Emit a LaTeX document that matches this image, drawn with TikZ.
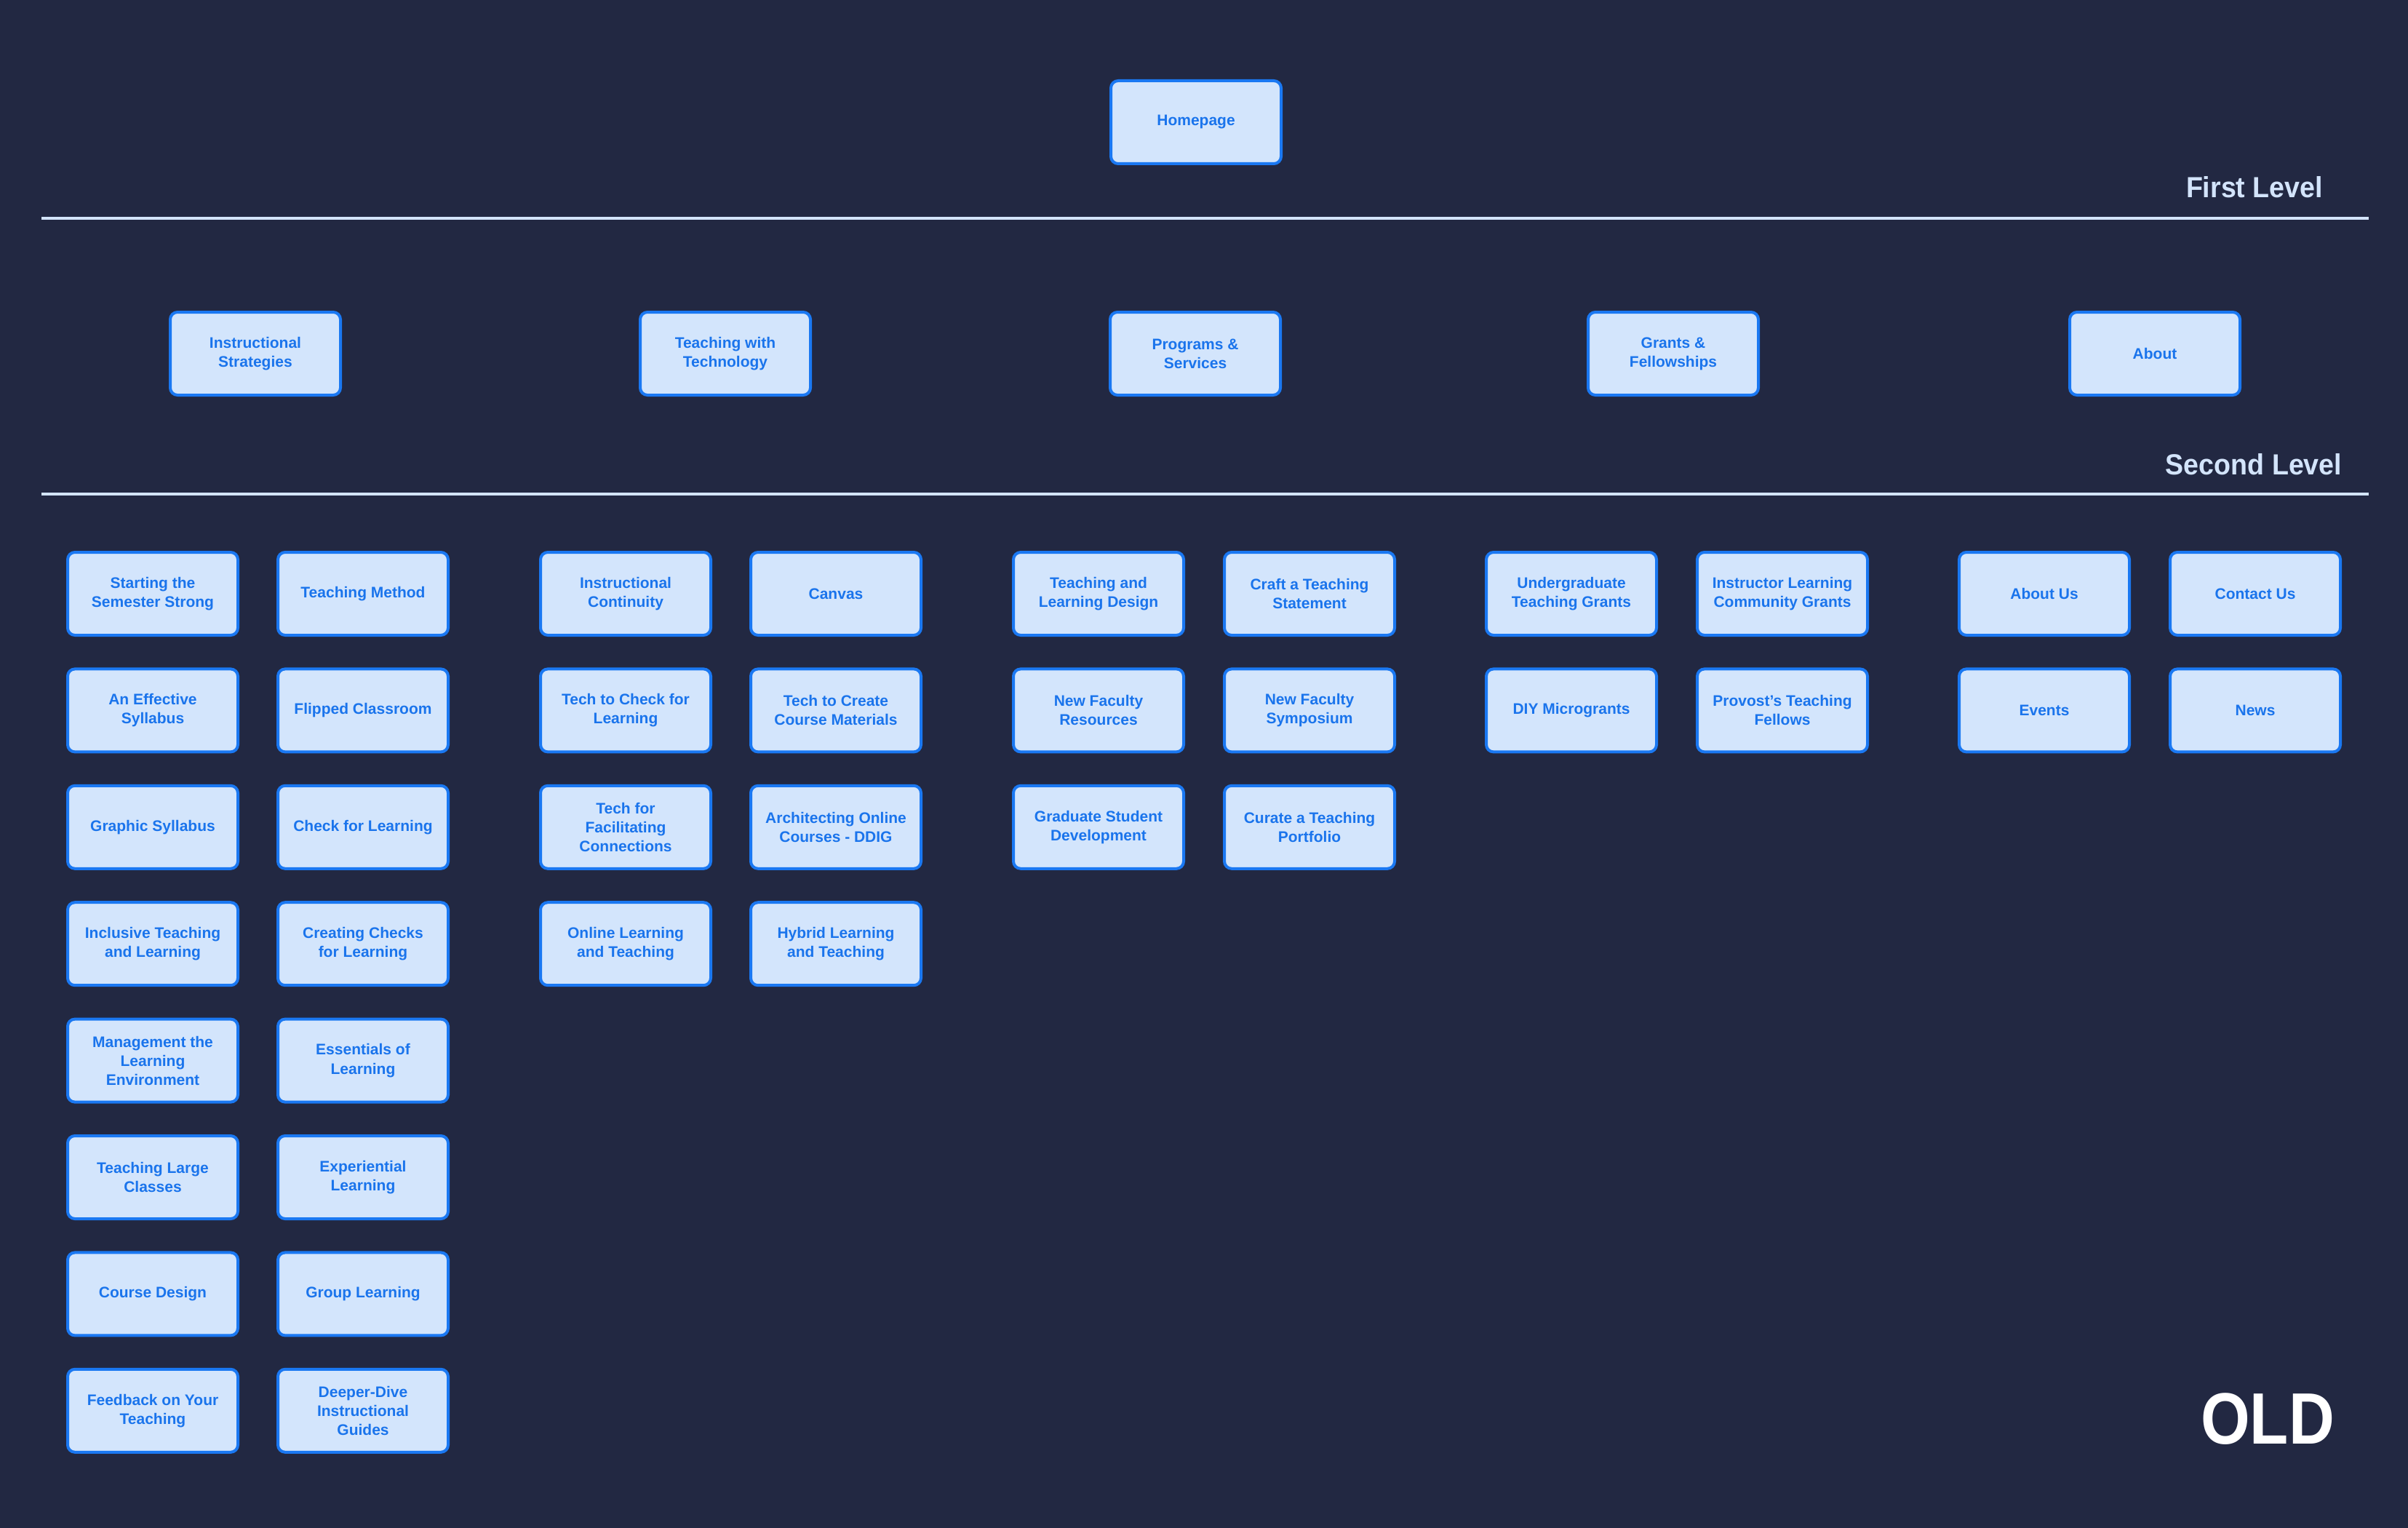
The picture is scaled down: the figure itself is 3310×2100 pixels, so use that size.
\documentclass[tikz,border=0pt]{standalone}
\usepackage{fontspec}
\setmainfont{Liberation Sans}
\newfontfamily\headfont{Liberation Sans}[FakeStretch=0.94]
\newfontfamily\oldfont{Liberation Sans}[FakeStretch=0.87]
\definecolor{bgcol}{HTML}{222842}
\definecolor{boxfill}{HTML}{D3E5FC}
\definecolor{boxline}{HTML}{1A78F2}
\definecolor{boxtext}{HTML}{1A74EC}
\definecolor{rulecol}{HTML}{D3E4FB}
\tikzset{
  pagebox/.style={draw=boxline, line width=4pt, fill=boxfill, rounded corners=10pt,
    minimum width=234pt, minimum height=114pt, inner sep=0pt, align=center,
    text=boxtext, font=\bfseries\fontsize{21}{26}\selectfont},
  levelrule/.style={draw=rulecol, line width=4pt},
  levellabel/.style={anchor=base, text=rulecol, font=\headfont\bfseries\fontsize{40}{46}\selectfont, inner sep=0pt},
}
\begin{document}
\begin{tikzpicture}[x=1pt,y=-1pt]
\fill[bgcol] (0,0) rectangle (3310,2100);
\useasboundingbox (0,0) rectangle (3310,2100);

% top
\node[pagebox] (home) at (1644,168) {Homepage};
\coordinate (r1a) at (57,300);
\coordinate (r1b) at (3256,300);
\draw[levelrule] (r1a) -- (r1b);
\node[levellabel] (lab1) at (3099,272) {First Level};

% first level
\node[pagebox] (l1a) at (351,486) {Instructional\\Strategies};
\node[pagebox] (l1b) at (997,486) {Teaching with\\Technology};
\node[pagebox] (l1c) at (1643,486) {Programs \&\\Services};
\node[pagebox] (l1d) at (2300,486) {Grants \&\\Fellowships};
\node[pagebox] (l1e) at (2962,486) {About};

\node[levellabel] (lab2) at (3098,652) {Second Level};
\coordinate (r2a) at (57,679);
\coordinate (r2b) at (3256,679);
\draw[levelrule] (r2a) -- (r2b);

% second level: column 1
\node[pagebox] (a1) at (210,816) {Starting the\\Semester Strong};
\node[pagebox] (a2) at (210,976.4) {An Effective\\Syllabus};
\node[pagebox] (a3) at (210,1136.8) {Graphic Syllabus};
\node[pagebox] (a4) at (210,1297.2) {Inclusive Teaching\\and Learning};
\node[pagebox] (a5) at (210,1457.6) {Management the\\Learning\\Environment};
\node[pagebox] (a6) at (210,1618) {Teaching Large\\Classes};
\node[pagebox] (a7) at (210,1778.4) {Course Design};
\node[pagebox] (a8) at (210,1938.8) {Feedback on Your\\Teaching};
% column 2
\node[pagebox] (b1) at (499,816) {Teaching Method};
\node[pagebox] (b2) at (499,976.4) {Flipped Classroom};
\node[pagebox] (b3) at (499,1136.8) {Check for Learning};
\node[pagebox] (b4) at (499,1297.2) {Creating Checks\\for Learning};
\node[pagebox] (b5) at (499,1457.6) {Essentials of\\Learning};
\node[pagebox] (b6) at (499,1618) {Experiential\\Learning};
\node[pagebox] (b7) at (499,1778.4) {Group Learning};
\node[pagebox] (b8) at (499,1938.8) {Deeper-Dive\\Instructional\\Guides};
% column 3
\node[pagebox] (c1) at (860,816) {Instructional\\Continuity};
\node[pagebox] (c2) at (860,976.4) {Tech to Check for\\Learning};
\node[pagebox] (c3) at (860,1136.8) {Tech for\\Facilitating\\Connections};
\node[pagebox] (c4) at (860,1297.2) {Online Learning\\and Teaching};
% column 4
\node[pagebox] (d1) at (1149,816) {Canvas};
\node[pagebox] (d2) at (1149,976.4) {Tech to Create\\Course Materials};
\node[pagebox] (d3) at (1149,1136.8) {Architecting Online\\Courses - DDIG};
\node[pagebox] (d4) at (1149,1297.2) {Hybrid Learning\\and Teaching};
% column 5
\node[pagebox] (e1) at (1510,816) {Teaching and\\Learning Design};
\node[pagebox] (e2) at (1510,976.4) {New Faculty\\Resources};
\node[pagebox] (e3) at (1510,1136.8) {Graduate Student\\Development};
% column 6
\node[pagebox] (f1) at (1800,816) {Craft a Teaching\\Statement};
\node[pagebox] (f2) at (1800,976.4) {New Faculty\\Symposium};
\node[pagebox] (f3) at (1800,1136.8) {Curate a Teaching\\Portfolio};
% column 7
\node[pagebox] (g1) at (2160,816) {Undergraduate\\Teaching Grants};
\node[pagebox] (g2) at (2160,976.4) {DIY Microgrants};
% column 8
\node[pagebox] (h1) at (2450,816) {Instructor Learning\\Community Grants};
\node[pagebox] (h2) at (2450,976.4) {Provost's Teaching\\Fellows};
% column 9
\node[pagebox] (i1) at (2810,816) {About Us};
\node[pagebox] (i2) at (2810,976.4) {Events};
% column 10
\node[pagebox] (j1) at (3100,816) {Contact Us};
\node[pagebox] (j2) at (3100,976.4) {News};

\node[anchor=base, text=white, inner sep=0pt, font=\oldfont\bfseries\fontsize{100}{110}\selectfont] (old) at (3117,1984) {OLD};
\end{tikzpicture}
\end{document}
